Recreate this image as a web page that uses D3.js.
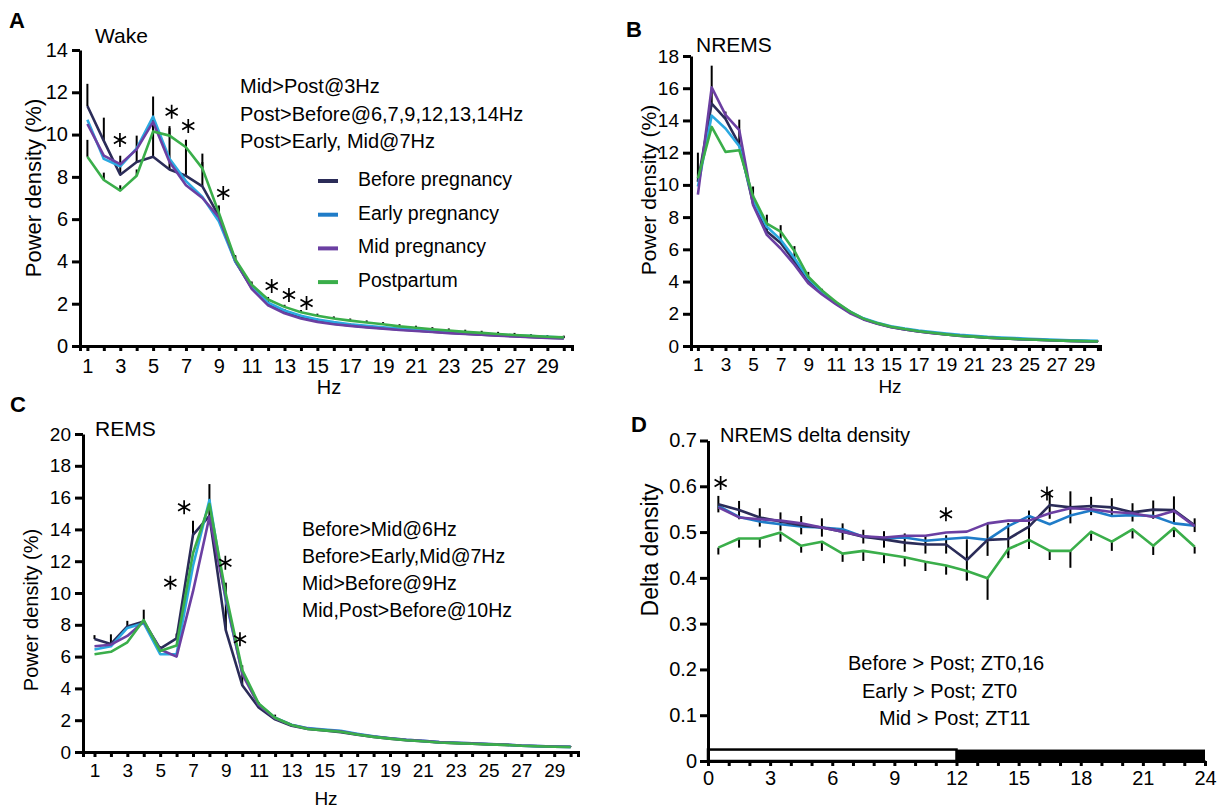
<!DOCTYPE html>
<html>
<head>
<meta charset="utf-8">
<script src="https://cdn.jsdelivr.net/npm/d3@7"></script>
<style>
  body { margin: 0; background: #fff; }
  svg { display: block; }
</style>
</head>
<body>
<svg id="fig" width="1228" height="811"></svg>
<script>
(() => {
  // ---- data ----
  const groups = ['Before pregnancy', 'Early pregnancy', 'Mid pregnancy', 'Postpartum']

  const hz = [1, 2, 3, 4, 5, 6, 7, 8, 9, 10, 11, 12, 13, 14, 15, 16, 17, 18, 19, 20, 21, 22, 23, 24, 25, 26, 27, 28, 29, 30]

  // A: Wake power density (%)
  const wakeBefore = [11.35, 9.7, 8.1, 8.7, 8.95, 8.35, 8.05, 7.55, 6.15, 4.0, 2.75, 1.98, 1.6, 1.35, 1.18, 1.06, 0.97, 0.9, 0.84, 0.78, 0.73, 0.68, 0.63, 0.58, 0.54, 0.5, 0.46, 0.43, 0.39, 0.37]
  const wakeEarly = [10.7, 8.85, 8.5, 9.35, 10.85, 8.85, 7.8, 7.05, 5.9, 4.0, 2.8, 2.05, 1.68, 1.43, 1.25, 1.13, 1.03, 0.95, 0.88, 0.82, 0.77, 0.72, 0.67, 0.62, 0.58, 0.54, 0.5, 0.47, 0.43, 0.4]
  const wakeMid = [10.5, 9.0, 8.6, 9.3, 10.6, 8.7, 7.6, 7.0, 6.1, 4.05, 2.7, 1.92, 1.55, 1.3, 1.14, 1.03, 0.95, 0.88, 0.82, 0.76, 0.71, 0.66, 0.61, 0.57, 0.53, 0.49, 0.45, 0.42, 0.38, 0.36]
  const wakePost = [8.95, 7.85, 7.35, 8.05, 10.15, 9.95, 9.4, 8.4, 6.3, 4.1, 2.9, 2.2, 1.85, 1.6, 1.43, 1.3, 1.2, 1.11, 1.03, 0.93, 0.86, 0.79, 0.73, 0.67, 0.62, 0.57, 0.52, 0.48, 0.44, 0.41]
  const wakeErrBefore = [1.05, 1.1, 0.9, 1.25, 2.85, 2.05, 1.7, 1.55, 0.5, 0.25, 0.2, 0.15, 0.15, 0.12, 0.12, 0.1, 0.1, 0.08, 0.08, 0.08, 0.07, 0.07, 0.06, 0.06, 0.06, 0.05, 0.05, 0.05, 0.05, 0.05]
  const wakeErrPost = [0.8, 0.35, 0.25, 0.3, 0.3, 0.35, 0.35, 0.3, 0.3, 0.2, 0.15, 0.12, 0.1, 0.1, 0.1, 0.1, 0.1, 0.1, 0.1, 0.1, 0.1, 0.1, 0.1, 0.1, 0.1, 0.1, 0.1, 0.08, 0.08, 0.08]
  const wakeStarHz = [2.98, 6.13, 7.14, 9.27, 12.22, 13.27, 14.34]
  const wakeStarVal = [9.74, 11.08, 10.41, 7.24, 2.84, 2.41, 2.03]
  const wakeNotes = ['Mid>Post@3Hz', 'Post>Before@6,7,9,12,13,14Hz', 'Post>Early, Mid@7Hz']

  // B: NREMS power density (%)
  const nremBefore = [10.2, 15.05, 14.1, 12.5, 8.85, 7.1, 6.4, 5.25, 4.1, 3.3, 2.65, 2.1, 1.68, 1.4, 1.18, 1.03, 0.91, 0.81, 0.72, 0.64, 0.58, 0.52, 0.48, 0.44, 0.4, 0.37, 0.34, 0.32, 0.3, 0.28]
  const nremEarly = [9.9, 14.3, 13.5, 12.4, 9.05, 7.4, 6.6, 5.45, 4.2, 3.35, 2.7, 2.15, 1.72, 1.45, 1.22, 1.08, 0.96, 0.86, 0.77, 0.69, 0.63, 0.57, 0.53, 0.49, 0.45, 0.42, 0.39, 0.36, 0.34, 0.32]
  const nremMid = [9.4, 16.05, 14.35, 13.4, 8.75, 6.9, 6.05, 5.05, 3.9, 3.2, 2.6, 2.05, 1.65, 1.38, 1.17, 1.02, 0.9, 0.8, 0.71, 0.63, 0.57, 0.52, 0.47, 0.43, 0.4, 0.37, 0.34, 0.31, 0.29, 0.27]
  const nremPost = [10.4, 13.6, 12.05, 12.15, 9.3, 7.6, 7.1, 5.9, 4.3, 3.45, 2.75, 2.15, 1.7, 1.42, 1.2, 1.05, 0.92, 0.82, 0.72, 0.64, 0.58, 0.52, 0.48, 0.44, 0.4, 0.37, 0.34, 0.32, 0.3, 0.28]
  const nremErrBefore = [1.8, 2.35, 0.45, 1.55, 1.05, 1.05, 1.1, 0.95, 0.5, 0.25, 0.15, 0.12, 0.1, 0.08, 0.07, 0.06, 0.06, 0.05, 0.05, 0.05, 0.05, 0.05, 0.05, 0.1, 0.05, 0.05, 0.05, 0.05, 0.05, 0.05]

  // C: REMS power density (%)
  const remBefore = [7.1, 6.8, 7.9, 8.2, 6.5, 7.15, 13.65, 14.85, 7.65, 4.2, 2.8, 2.05, 1.65, 1.45, 1.35, 1.25, 1.08, 0.95, 0.84, 0.74, 0.68, 0.6, 0.56, 0.52, 0.48, 0.45, 0.39, 0.36, 0.33, 0.31]
  const remEarly = [6.45, 6.65, 7.8, 8.1, 6.15, 6.15, 11.7, 15.85, 9.5, 5.0, 3.0, 2.15, 1.72, 1.5, 1.42, 1.33, 1.15, 0.99, 0.87, 0.77, 0.7, 0.62, 0.58, 0.54, 0.5, 0.46, 0.4, 0.37, 0.34, 0.32]
  const remMid = [6.65, 6.75, 7.3, 8.2, 6.45, 6.0, 10.1, 14.8, 9.65, 4.9, 2.95, 2.12, 1.7, 1.48, 1.38, 1.3, 1.12, 0.97, 0.86, 0.76, 0.7, 0.62, 0.58, 0.54, 0.5, 0.47, 0.41, 0.38, 0.35, 0.33]
  const remPost = [6.15, 6.3, 6.9, 8.3, 6.35, 6.7, 12.5, 15.6, 9.95, 5.15, 3.05, 2.15, 1.7, 1.45, 1.36, 1.27, 1.1, 0.95, 0.84, 0.74, 0.68, 0.6, 0.56, 0.52, 0.48, 0.45, 0.39, 0.36, 0.33, 0.31]
  const remErrBefore = [0.25, 0.6, 0.35, 0.75, 0.15, 0.3, 0.9, 2.0, 3.0, 1.25, 0.35, 0.3, 0.1, 0.08, 0.1, 0.08, 0.06, 0.06, 0.05, 0.05, 0.05, 0.05, 0.05, 0.05, 0.05, 0.05, 0.05, 0.05, 0.05, 0.05]
  const remStarHz = [5.62, 6.46, 8.97, 9.86]
  const remStarVal = [10.65, 15.39, 11.9, 7.09]
  const remNotes = ['Before>Mid@6Hz', 'Before>Early,Mid@7Hz', 'Mid>Before@9Hz', 'Mid,Post>Before@10Hz']

  // D: NREMS delta density by zeitgeber time
  const zt = [0.5, 1.5, 2.5, 3.5, 4.5, 5.5, 6.5, 7.5, 8.5, 9.5, 10.5, 11.5, 12.5, 13.5, 14.5, 15.5, 16.5, 17.5, 18.5, 19.5, 20.5, 21.5, 22.5, 23.5]
  const deltaBefore = [0.561, 0.548, 0.532, 0.523, 0.515, 0.510, 0.501, 0.490, 0.484, 0.477, 0.473, 0.473, 0.439, 0.483, 0.485, 0.512, 0.559, 0.554, 0.557, 0.554, 0.543, 0.549, 0.548, 0.515]
  const deltaEarly = [0.557, 0.533, 0.523, 0.517, 0.512, 0.510, 0.506, 0.490, 0.486, 0.488, 0.481, 0.485, 0.488, 0.483, 0.513, 0.535, 0.517, 0.536, 0.547, 0.535, 0.537, 0.535, 0.519, 0.514]
  const deltaMid = [0.554, 0.532, 0.528, 0.525, 0.519, 0.510, 0.501, 0.491, 0.488, 0.492, 0.492, 0.499, 0.501, 0.519, 0.525, 0.525, 0.541, 0.552, 0.550, 0.544, 0.541, 0.533, 0.546, 0.513]
  const deltaPost = [0.466, 0.486, 0.486, 0.499, 0.470, 0.479, 0.453, 0.459, 0.452, 0.445, 0.435, 0.427, 0.415, 0.399, 0.463, 0.483, 0.459, 0.459, 0.501, 0.479, 0.506, 0.470, 0.509, 0.468]
  const deltaErrBefore = [0.018, 0.02, 0.02, 0.02, 0.02, 0.02, 0.018, 0.015, 0.018, 0.02, 0.02, 0.02, 0.045, 0.035, 0.035, 0.035, 0.03, 0.035, 0.02, 0.02, 0.02, 0.02, 0.03, 0.015]
  const deltaErrPost = [0.015, 0.02, 0.02, 0.02, 0.015, 0.02, 0.018, 0.022, 0.02, 0.02, 0.02, 0.02, 0.02, 0.047, 0.02, 0.02, 0.02, 0.037, 0.02, 0.02, 0.02, 0.02, 0.02, 0.015]
  const deltaStarZt = [0.61, 11.49, 16.37]
  const deltaStarVal = [0.607, 0.539, 0.584]
  const deltaNotes = ['Before > Post; ZT0,16', 'Early > Post; ZT0', 'Mid > Post; ZT11']

  // ---- styling ----
  const FONT = '"Liberation Sans", Arial, Helvetica, sans-serif'
  const NAVY = '#2b2c58'
  const CYAN = '#2ba9e1'
  const BLUE = '#1f7cc8'
  const PURPLE = '#6b3fa2'
  const GREEN = '#3aae4a'
  const specColors = [NAVY, CYAN, PURPLE, GREEN]
  const legendColors = [NAVY, BLUE, PURPLE, GREEN]

  const svg = d3.select('#fig').attr('font-family', FONT)

  const styleAxis = (sel, size) => {
    sel.attr('font-family', FONT).attr('font-size', size)
    sel.select('.domain').attr('stroke', '#000').attr('stroke-width', 3)
    sel.selectAll('.tick line').attr('stroke', '#000').attr('stroke-width', 3)
    sel.selectAll('.tick text').attr('fill', '#000')
  }

  const text = (g, x, y, str, size, opts = {}) => g.append('text')
    .attr('x', x).attr('y', y)
    .attr('font-size', size)
    .attr('font-weight', opts.bold ? 'bold' : null)
    .attr('text-anchor', opts.anchor || 'start')
    .attr('fill', '#000')
    .text(str)

  const yLabel = (g, x, y, str, size) => g.append('text')
    .attr('transform', `translate(${x},${y}) rotate(-90)`)
    .attr('text-anchor', 'middle')
    .attr('dominant-baseline', 'central')
    .attr('font-size', size)
    .text(str)

  // six-spoke asterisk
  const star = (g, cx, cy) => {
    const r = 7
    let d = ''
    for (const a of [90, 30, 150]) {
      const t = a * Math.PI / 180
      d += `M${cx + r * Math.cos(t)},${cy - r * Math.sin(t)}L${cx - r * Math.cos(t)},${cy + r * Math.sin(t)}`
    }
    g.append('path').attr('d', d).attr('stroke', '#000').attr('stroke-width', 1.7).attr('fill', 'none')
  }

  /**
   * Power spectrum panel (A, B, C)
   */
  function spectrum(p) {
    const g = svg.append('g')
    const x = d3.scaleLinear().domain(p.xDom).range(p.xRange)
    const y = d3.scaleLinear().domain([0, p.yMax]).range(p.yRange)

    g.append('g')
      .attr('transform', `translate(0,${p.yRange[0]})`)
      .call(d3.axisBottom(x).tickValues(hz).tickFormat(d => d % 2 ? d : '')
        .tickSize(5).tickSizeOuter(5).tickPadding(p.xPad))
      .call(s => styleAxis(s, p.tickFont))

    g.append('g')
      .attr('transform', `translate(${p.xRange[0]},0)`)
      .call(d3.axisLeft(y).tickValues(d3.range(0, p.yMax + 1, 2))
        .tickSize(8).tickSizeOuter(0).tickPadding(4))
      .call(s => styleAxis(s, p.tickFont))

    // error bars (upwards), under the lines
    p.errs.forEach(e => {
      g.append('g').selectAll('line')
        .data(e.err)
        .join('line')
        .attr('x1', (d, i) => x(hz[i])).attr('x2', (d, i) => x(hz[i]))
        .attr('y1', (d, i) => y(e.base[i]))
        .attr('y2', (d, i) => y(e.base[i] + d))
        .attr('stroke', '#000').attr('stroke-width', 2)
    })

    const line = d3.line().x((d, i) => x(hz[i])).y(d => y(d))
    p.series.forEach((s, k) => {
      g.append('path').datum(s)
        .attr('d', line)
        .attr('fill', 'none')
        .attr('stroke', specColors[k])
        .attr('stroke-width', 2.6)
        .attr('stroke-linejoin', 'round')
    })

    if (p.starHz) p.starHz.forEach((h, i) => star(g, x(h), y(p.starVal[i])))

    text(g, p.letter[1], p.letter[2], p.letter[0], 22, { bold: true })
    text(g, p.title[1], p.title[2], p.title[0], 21)
    text(g, p.hzPos[0], p.hzPos[1], 'Hz', p.tickFont, { anchor: 'middle' })
    yLabel(g, p.yLab[0], p.yLab[1], 'Power density (%)', p.yLab[2])
    return g
  }

  // A
  const gA = spectrum({
    xDom: [0.55, 30.5], xRange: [80, 572], yMax: 14, yRange: [346, 50],
    series: [wakeBefore, wakeEarly, wakeMid, wakePost],
    errs: [{ base: wakeBefore, err: wakeErrBefore }, { base: wakePost, err: wakeErrPost }],
    starHz: wakeStarHz, starVal: wakeStarVal, xPad: 8,
    tickFont: 20, letter: ['A', 9, 28], title: ['Wake', 95, 43], hzPos: [329, 394], yLab: [33, 188, 22]
  })
  wakeNotes.forEach((t, i) => text(gA, 240, 93 + i * 27.5, t, 20))
  groups.forEach((t, i) => {
    const cy = 179 + i * 33.7
    gA.append('line').attr('x1', 318).attr('x2', 338).attr('y1', cy + 2).attr('y2', cy + 2)
      .attr('stroke', legendColors[i]).attr('stroke-width', 4)
    text(gA, 358, cy + 7, t, 19.5)
  })

  // B
  spectrum({
    xDom: [0.5, 30.15], xRange: [691, 1100], yMax: 18, yRange: [346, 56],
    series: [nremBefore, nremEarly, nremMid, nremPost],
    errs: [{ base: nremBefore, err: nremErrBefore }], xPad: 7,
    tickFont: 19, letter: ['B', 626, 37], title: ['NREMS', 696, 52], hzPos: [890, 393], yLab: [648, 190, 21]
  })

  // C
  const gC = spectrum({
    xDom: [0.3, 30.45], xRange: [83, 578], yMax: 20, yRange: [752, 434],
    series: [remBefore, remEarly, remMid, remPost],
    errs: [{ base: remBefore, err: remErrBefore }],
    starHz: remStarHz, starVal: remStarVal, xPad: 7,
    tickFont: 19, letter: ['C', 10, 412], title: ['REMS', 95, 436], hzPos: [326, 805], yLab: [31, 610, 20]
  })
  remNotes.forEach((t, i) => text(gC, 302, 536 + i * 27, t, 19.5))

  /**
   * Delta density across the day (D)
   */
  function deltaPanel() {
    const g = svg.append('g')
    const x = d3.scaleLinear().domain([0, 24]).range([708, 1205])
    const y = d3.scaleLinear().domain([0, 0.7]).range([761, 440.5])

    // light / dark bar
    g.append('rect').attr('x', x(0)).attr('y', y(0.025)).attr('width', x(12) - x(0)).attr('height', y(0) - y(0.025))
      .attr('fill', '#fff').attr('stroke', '#000').attr('stroke-width', 2.5)
    g.append('rect').attr('x', x(12)).attr('y', y(0.025)).attr('width', x(24) - x(12)).attr('height', y(0) - y(0.025))
      .attr('fill', '#000')

    g.append('g')
      .attr('transform', `translate(0,${y(0)})`)
      .call(d3.axisBottom(x).tickValues(d3.range(0, 25)).tickFormat(d => d % 3 === 0 ? d : '')
        .tickSize(5).tickSizeOuter(0).tickPadding(5))
      .call(s => styleAxis(s, 20))

    g.append('g')
      .attr('transform', `translate(${x(0)},0)`)
      .call(d3.axisLeft(y).tickValues(d3.range(0, 0.75, 0.1))
        .tickFormat(d => d < 0.05 ? '0' : d3.format('.1f')(d))
        .tickSize(8).tickSizeOuter(0).tickPadding(3))
      .call(s => styleAxis(s, 20))

    // error bars
    g.append('g').selectAll('line').data(deltaErrBefore).join('line')
      .attr('x1', (d, i) => x(zt[i])).attr('x2', (d, i) => x(zt[i]))
      .attr('y1', (d, i) => y(deltaBefore[i] - d)).attr('y2', (d, i) => y(deltaBefore[i] + d))
      .attr('stroke', '#000').attr('stroke-width', 2)
    g.append('g').selectAll('line').data(deltaErrPost).join('line')
      .attr('x1', (d, i) => x(zt[i])).attr('x2', (d, i) => x(zt[i]))
      .attr('y1', (d, i) => y(deltaPost[i])).attr('y2', (d, i) => y(deltaPost[i] - d))
      .attr('stroke', '#000').attr('stroke-width', 2)

    const line = d3.line().x((d, i) => x(zt[i])).y(d => y(d))
    const order = [[deltaPost, GREEN], [deltaEarly, BLUE], [deltaBefore, NAVY], [deltaMid, PURPLE]]
    order.forEach(([s, c]) => {
      g.append('path').datum(s).attr('d', line)
        .attr('fill', 'none').attr('stroke', c).attr('stroke-width', 2.6).attr('stroke-linejoin', 'round')
    })

    deltaStarZt.forEach((h, i) => star(g, x(h), y(deltaStarVal[i])))

    text(g, 631, 432, 'D', 22, { bold: true })
    text(g, 720, 442, 'NREMS delta density', 20)
    yLabel(g, 650, 550, 'Delta density', 23)
    const noteX = [848, 862, 879]
    deltaNotes.forEach((t, i) => text(g, noteX[i], 670 + i * 27.5, t, 20))
  }

  deltaPanel()
})()
</script>
</body>
</html>
